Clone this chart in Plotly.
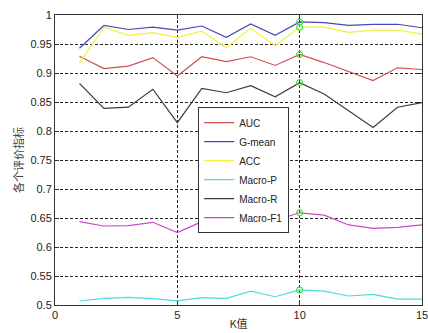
import plotly.graph_objects as go

k = list(range(1, 16))
auc = [0.929, 0.9075, 0.912, 0.9265, 0.895, 0.928, 0.9195, 0.928, 0.913, 0.932, 0.918, 0.902, 0.887, 0.909, 0.906]
gmean = [0.9426, 0.982, 0.975, 0.979, 0.974, 0.981, 0.9615, 0.9845, 0.965, 0.988, 0.987, 0.982, 0.984, 0.984, 0.978]
acc = [0.917, 0.979, 0.965, 0.9695, 0.9615, 0.972, 0.9437, 0.977, 0.947, 0.979, 0.979, 0.970, 0.974, 0.974, 0.967]
macro_p = [0.5069, 0.5115, 0.513, 0.511, 0.507, 0.5126, 0.5115, 0.524, 0.5143, 0.526, 0.524, 0.5155, 0.5184, 0.5103, 0.5103]
macro_r = [0.882, 0.839, 0.841, 0.872, 0.8144, 0.8735, 0.866, 0.878, 0.859, 0.8833, 0.8638, 0.835, 0.806, 0.841, 0.849]
macro_f1 = [0.6437, 0.6362, 0.6367, 0.6426, 0.6248, 0.6437, 0.645, 0.652, 0.646, 0.659, 0.655, 0.638, 0.632, 0.634, 0.638]
best_k = 10

series = [
    ("AUC", auc, "#d05050"),
    ("G-mean", gmean, "#4848b8"),
    ("ACC", acc, "#f4f040"),
    ("Macro-P", macro_p, "#48dede"),
    ("Macro-R", macro_r, "#3c3c3c"),
    ("Macro-F1", macro_f1, "#cc48cc"),
]

fig = go.Figure()
for name, vals, col in series:
    fig.add_trace(go.Scatter(x=k, y=vals, mode="lines", name=name,
                             line=dict(color=col, width=1.2)))
for name, vals, col in series:
    i = k.index(best_k)
    fig.add_trace(go.Scatter(x=[best_k], y=[vals[i]], mode="markers", showlegend=False,
                             marker=dict(symbol="circle-open", color="#44e044", size=6,
                                         line=dict(width=1.2))))

axis_common = dict(showline=True, linecolor="#333333", linewidth=1, mirror="ticks",
                   ticks="inside", ticklen=4, tickcolor="#333333", automargin=False,
                   showgrid=True, gridcolor="#222222", griddash="3px,2px", gridwidth=1,
                   zeroline=False, ticklabeloverflow="allow",
                   tickfont=dict(family="Liberation Sans, Arial", size=11, color="#222222"))

fig.update_xaxes(range=[0, 15], tickvals=[0, 5, 10, 15], **axis_common,
                 title=dict(text="K值", font=dict(family="Noto Sans CJK SC", size=11, color="#333333"), standoff=0))
fig.update_yaxes(range=[0.5, 1], tickvals=[0.5, 0.55, 0.6, 0.65, 0.7, 0.75, 0.8, 0.85, 0.9, 0.95, 1],
                 ticktext=["0.5", "0.55", "0.6", "0.65", "0.7", "0.75", "0.8", "0.85", "0.9", "0.95", "1"],
                 **axis_common,
                 title=dict(text="各个评价指标", font=dict(family="Noto Sans CJK SC", size=11, color="#444444"), standoff=4))

fig.update_layout(
    template="none",
    width=428, height=333,
    margin=dict(l=55, r=6, t=15, b=28),
    plot_bgcolor="white", paper_bgcolor="white",
    showlegend=True,
    legend=dict(x=0.39, y=0.682, xanchor="left", yanchor="top",
                bgcolor="white", bordercolor="#333333", borderwidth=1,
                font=dict(family="Liberation Sans, Arial", size=10, color="#222222"),
                itemwidth=30, tracegroupgap=0),
)

fig.write_html("out.html", config={"displayModeBar": False},
               post_script="document.body.style.margin='0';document.body.style.overflow='hidden';")
